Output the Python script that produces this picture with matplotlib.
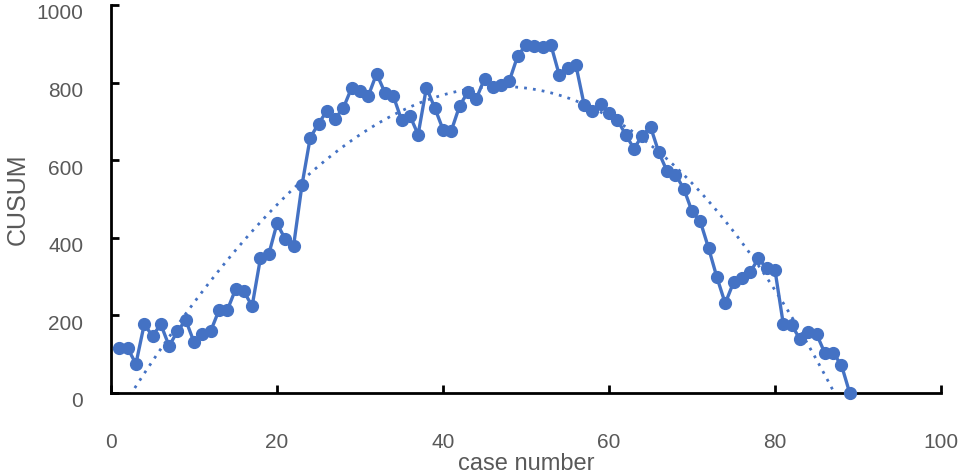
import numpy as np
import matplotlib.pyplot as plt
import matplotlib.transforms as mtransforms

plt.rcParams['font.family'] = ['Liberation Sans', 'DejaVu Sans']

case = list(range(1, 90))
cusum = [116, 116, 75, 177, 147, 177, 121, 159, 188, 131,
         152, 159, 213, 213, 267, 262, 224, 347, 357, 437,
         396, 380, 535, 658, 694, 727, 707, 735, 787, 779,
         766, 823, 774, 766, 704, 715, 666, 787, 735, 679,
         676, 740, 776, 758, 810, 789, 794, 805, 869, 897,
         895, 892, 897, 820, 838, 846, 743, 727, 745, 722,
         704, 666, 630, 663, 686, 620, 571, 563, 527, 468,
         442, 373, 298, 231, 285, 296, 311, 347, 321, 316,
         177, 175, 139, 157, 152, 103, 103, 72, 0]

x_ticks = [0, 20, 40, 60, 80, 100]
y_ticks = [0, 200, 400, 600, 800, 1000]

blue = '#4472C4'
grey = '#595959'

fig = plt.figure(figsize=(9.62, 4.74), dpi=100)
ax = fig.add_axes([0.1154, 0.1709, 0.8628, 0.8186])

# polynomial trend line (order 3), like the spreadsheet one
coef = np.polyfit(case, cusum, 3)
xs = np.linspace(0, 100, 800)
ax.plot(xs, np.polyval(coef, xs), color=blue, lw=2, linestyle=(0, (1, 2.2)))

ax.plot(case, cusum, '-o', color=blue, lw=2.4, markersize=8.5, clip_on=False, zorder=3)

ax.set_xlim(0, 100)
ax.set_ylim(0, 1000)
ax.set_xticks(x_ticks)
ax.set_yticks(y_ticks)

for s in ['top', 'right']:
    ax.spines[s].set_visible(False)
for s in ['left', 'bottom']:
    ax.spines[s].set_linewidth(2)

ax.tick_params(axis='both', direction='in', length=6, width=2, labelsize=15, labelcolor=grey)
ax.tick_params(axis='x', pad=29)
ax.tick_params(axis='y', pad=20)

# y labels sit a little below their ticks in the original
shift = mtransforms.ScaledTranslation(0, -0.07, fig.dpi_scale_trans)
for lbl in ax.get_yticklabels():
    lbl.set_transform(lbl.get_transform() + shift)

ax.set_xlabel('case number', fontsize=17, color=grey, va='center')
ax.set_ylabel('CUSUM', fontsize=18, color=grey, va='center', ha='center')
ax.xaxis.set_label_coords(0.5, -0.183)
ax.yaxis.set_label_coords(-0.112, 0.5)

fig.savefig('out.png', dpi=100)
